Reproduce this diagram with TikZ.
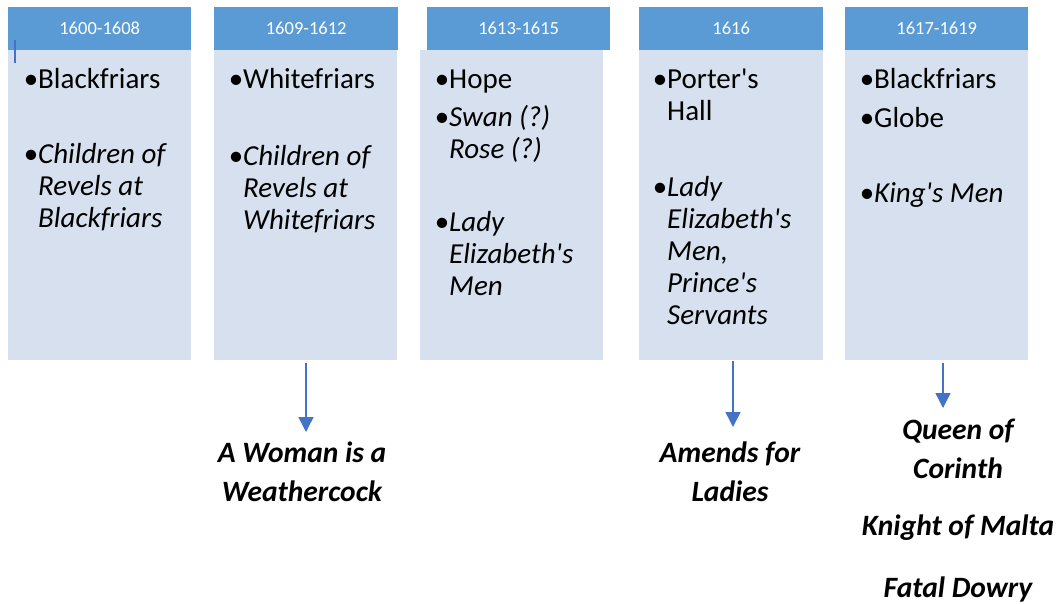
\documentclass[tikz,border=0pt]{standalone}
\usepackage{fontspec}
\setmainfont{Carlito}[Ligatures=TeXOff]
\usetikzlibrary{arrows.meta}
\definecolor{hdr}{HTML}{5B9BD5}
\definecolor{bdy}{HTML}{D6E0EF}
\definecolor{arr}{HTML}{4472C4}
\newcommand{\itm}[2]{\parbox[t]{#1}{\raggedright\baselineskip=32pt\leavevmode\llap{•}#2}}
\newcommand{\ctr}[2]{\parbox[t]{#1}{\centering\baselineskip=39pt #2}}
\begin{document}
\begin{tikzpicture}[x=1pt,y=-1pt,
  bodybox/.style={fill=bdy, draw=none, anchor=north west, minimum height=310pt, inner sep=0},
  hdrbox/.style={fill=hdr, draw=none, anchor=north west, minimum height=43pt, inner sep=0,
    text=white, font=\fontsize{18.5}{20}\selectfont},
  item/.style={anchor=base west, inner sep=0, font=\fontsize{29}{32}\selectfont},
  play/.style={anchor=base, inner sep=0, font=\fontsize{29.5}{39}\selectfont\bfseries\itshape},
  link/.style={draw=arr, line width=1.5pt, -{Triangle[width=15pt,length=15pt]}}]
\useasboundingbox (0,0) rectangle (1063,603);
% bodies
\node[bodybox, minimum width=183pt] (b1) at (8,50) {};
\node[bodybox, minimum width=183pt] (b2) at (214,50) {};
\node[bodybox, minimum width=183pt] (b3) at (420,50) {};
\node[bodybox, minimum width=184pt] (b4) at (639,50) {};
\node[bodybox, minimum width=183pt] (b5) at (845,50) {};
% headers
\node[hdrbox, minimum width=183pt] (h1) at (8,7) {1600-1608};
\node[hdrbox, minimum width=184pt] (h2) at (214,7) {1609-1612};
\node[hdrbox, minimum width=183pt] (h3) at (427,7) {1613-1615};
\node[hdrbox, minimum width=184pt] (h4) at (639,7) {1616};
\node[hdrbox, minimum width=183pt] (h5) at (845,7) {1617-1619};
\coordinate (m1) at (15,40);
\coordinate (m2) at (15,63);
\draw[draw=arr, line width=1.3pt] (m1) -- (m2);
% items
\node[item] (i11) at (38,88) {\itm{150pt}{Blackfriars}};
\node[item] (i12) at (38,163) {\itm{150pt}{\itshape Children of\\Revels at\\Blackfriars}};
\node[item] (i21) at (243,88) {\itm{150pt}{Whitefriars}};
\node[item] (i22) at (243,165) {\itm{150pt}{\itshape Children of\\Revels at\\Whitefriars}};
\node[item] (i31) at (449,88) {\itm{150pt}{Hope}};
\node[item] (i32) at (449,126) {\itm{150pt}{\itshape Swan (?)\\Rose (?)}};
\node[item] (i33) at (449,231) {\itm{150pt}{\itshape Lady\\Elizabeth's\\Men}};
\node[item] (i41) at (667,88) {\itm{150pt}{Porter's\\Hall}};
\node[item] (i42) at (667,196) {\itm{150pt}{\itshape Lady\\Elizabeth's\\Men,\\Prince's\\Servants}};
\node[item] (i51) at (874,88) {\itm{150pt}{Blackfriars}};
\node[item] (i52) at (874,127) {\itm{150pt}{Globe}};
\node[item] (i53) at (874,202) {\itm{150pt}{\itshape King's Men}};
% plays
\node[play] (p2) at (302,462) {\ctr{250pt}{A Woman is a\\Weathercock}};
\node[play] (p4) at (730,462) {\ctr{250pt}{Amends for\\Ladies}};
\node[play] (p5a) at (958,439) {\ctr{250pt}{Queen of\\Corinth}};
\node[play] (p5b) at (958,535) {Knight of Malta};
\node[play] (p5c) at (958,597) {Fatal Dowry};
% arrows
\coordinate (e2) at (306,432);
\coordinate (e4) at (733,427);
\coordinate (e5) at (943,408);
\draw[link] ([yshift=-3pt]b2.south -| e2) -- (e2);
\draw[link] ([yshift=-1pt]b4.south -| e4) -- (e4);
\draw[link] ([yshift=-3pt]b5.south -| e5) -- (e5);
\end{tikzpicture}
\end{document}
